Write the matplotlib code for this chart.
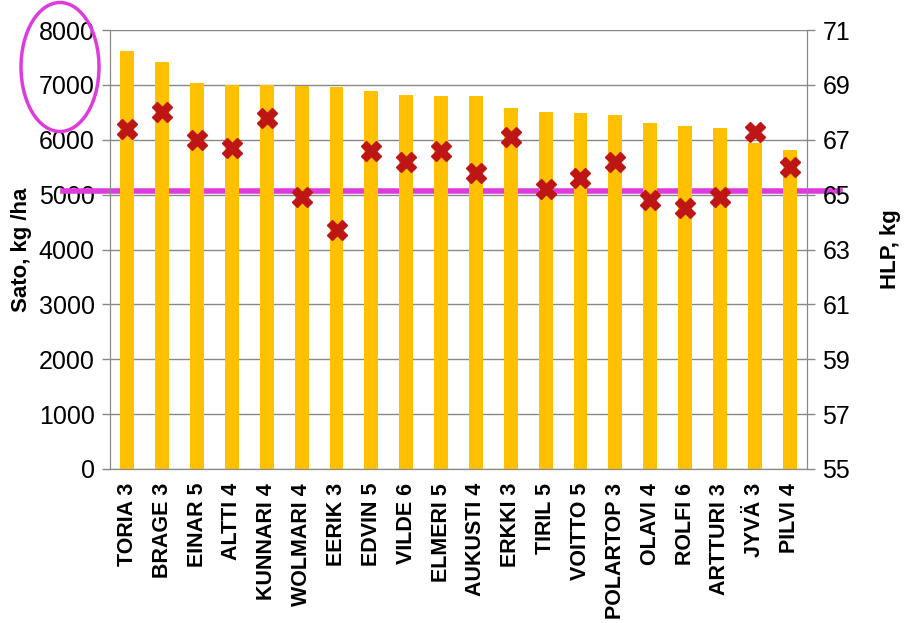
import matplotlib
matplotlib.use('Agg')
import matplotlib.pyplot as plt
from matplotlib.patches import Ellipse

plt.rcParams['font.family'] = ['Liberation Sans', 'DejaVu Sans']

# data
lajikkeet = ['TORIA 3', 'BRAGE 3', 'EINAR 5', 'ALTTI 4', 'KUNNARI 4', 'WOLMARI 4',
             'EERIK 3', 'EDVIN 5', 'VILDE 6', 'ELMERI 5', 'AUKUSTI 4', 'ERKKI 3',
             'TIRIL 5', 'VOITTO 5', 'POLARTOP 3', 'OLAVI 4', 'ROLFI 6', 'ARTTURI 3',
             'JYVÄ 3', 'PILVI 4']
sato = [7620, 7420, 7040, 7000, 6990, 6980, 6960, 6890, 6820, 6800, 6800, 6580,
        6510, 6490, 6450, 6310, 6250, 6210, 5940, 5810]
hlp = [67.4, 68.0, 67.0, 66.7, 67.8, 64.9, 63.7, 66.6, 66.2, 66.6, 65.8, 67.1,
       65.2, 65.6, 66.2, 64.8, 64.5, 64.9, 67.3, 66.0]
raja = 5070  # magenta reference line (left axis)

W, H = 908, 623
fig = plt.figure(figsize=(W / 100, H / 100), dpi=100)
ax = fig.add_axes([110 / W, 1 - 469 / H, (807 - 110) / W, (469 - 30) / H])
ax2 = ax.twinx()

x = range(len(lajikkeet))
ax.bar(x, sato, width=0.4, color='#FFC000', zorder=2)
ax.set_ylim(0, 8000)
ax.set_yticks(range(0, 8001, 1000))
ax.set_xlim(-0.5, len(lajikkeet) - 0.5)
ax.set_xticks(list(x))
ax.set_xticklabels(lajikkeet, rotation=90, fontsize=15.5, fontweight='bold')
ax.grid(axis='y', color='#888888', linewidth=1, zorder=0)
ax.set_axisbelow(True)

ax2.plot(list(x), hlp, linestyle='none', marker='X', markersize=14,
         color='#BE1515', markeredgecolor='#BE1515', zorder=5)
ax2.set_ylim(55, 71)
ax2.set_yticks(range(55, 72, 2))

for a in (ax, ax2):
    for s in a.spines.values():
        s.set_color('#888888')
    a.spines['top'].set_visible(False)
    a.tick_params(axis='y', labelsize=18, color='#888888', length=6, width=1, pad=5)
ax.tick_params(axis='x', length=0, pad=10)

ax.set_ylabel('Sato, kg /ha', fontsize=16, fontweight='bold')
ax2.set_ylabel('HLP, kg', fontsize=16, fontweight='bold')
ax.yaxis.set_label_coords(-0.112, 0.5)
ax2.yaxis.set_label_coords(1.105, 0.5)

ax.axhline(raja, xmin=(63 - 110) / 697, xmax=(840 - 110) / 697, color='#DD3BDD',
           linewidth=4, clip_on=False, zorder=1)

fig.patches.append(Ellipse((60 / W, 1 - 67 / H), 78 / W, 129 / H, fill=False,
                           edgecolor='#DD3BDD', linewidth=2.5,
                           transform=fig.transFigure, figure=fig))

fig.savefig('out.png', dpi=100)
